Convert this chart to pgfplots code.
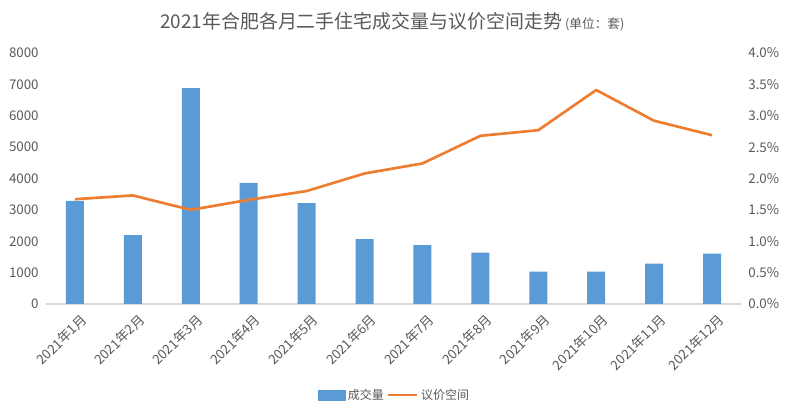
\documentclass[border=0pt]{standalone}
\usepackage{fontspec}
\setmainfont{Noto Sans CJK SC}
\usepackage{pgfplots}
\pgfplotsset{compat=1.18}
\definecolor{barblue}{HTML}{5B9BD5}
\definecolor{lineorange}{HTML}{ED7D31}
\definecolor{txtgray}{HTML}{595959}
\definecolor{axgray}{HTML}{D9D9D9}
\pgfplotsset{
  common/.style={
    scale only axis, width=521.25pt, height=188.25pt,
    xmin=-0.5, xmax=11.5, at={(0,0)}, anchor=south west,
    tick label style={font=\fontsize{10}{12}\selectfont, text=txtgray},
  }
}
\begin{document}
\begin{tikzpicture}[x=1pt,y=1pt]
\path (-34.5,-84) rectangle (556.5,228);
\node[anchor=west, text=txtgray, inner sep=0pt] at (85.5,211.5)
  {\fontsize{14.2}{16}\selectfont 2021年合肥各月二手住宅成交量与议价空间走势\,{\fontsize{9.5}{11}\selectfont (单位：套)}};
\begin{axis}[common,
  ymin=0, ymax=8000,
  ytick={0,1000,2000,3000,4000,5000,6000,7000,8000},
  yticklabels={0,1000,2000,3000,4000,5000,6000,7000,8000},
  axis x line*=bottom, axis y line*=left,
  y axis line style={draw=none},
  x axis line style={draw=axgray, line width=0.8pt, -},
  ytick style={draw=none},
  xtick={0,1,2,3,4,5,6,7,8,9,10,11},
  xticklabels={2021年1月,2021年2月,2021年3月,2021年4月,2021年5月,2021年6月,2021年7月,2021年8月,2021年9月,2021年10月,2021年11月,2021年12月},
  xtick style={draw=none},
  x tick label style={rotate=45, anchor=north east, inner sep=1pt, yshift=-3pt, xshift=2pt},
  extra x ticks={-0.5,0.5,1.5,2.5,3.5,4.5,5.5,6.5,7.5,8.5,9.5,10.5,11.5},
  extra x tick labels={},
  extra x tick style={tick align=outside, major tick length=5pt, tick style={draw=axgray, line width=0.8pt}},
  yticklabel style={xshift=-2pt},
  ybar, bar width=13.5pt,
]
\addplot[fill=barblue, draw=none] coordinates {
(0,3290) (1,2197) (2,6879) (3,3863) (4,3217) (5,2070)
(6,1879) (7,1634) (8,1030) (9,1030) (10,1284) (11,1603)};
\end{axis}
\begin{axis}[common,
  ymin=0, ymax=4,
  axis y line*=right, axis x line=none,
  y axis line style={draw=none},
  ytick style={draw=none},
  ytick={0,0.5,1,1.5,2,2.5,3,3.5,4},
  yticklabels={0.0\%,0.5\%,1.0\%,1.5\%,2.0\%,2.5\%,3.0\%,3.5\%,4.0\%},
  yticklabel style={xshift=2pt},
  legend style={at={(0.502,-0.363)}, anchor=center, draw=none, legend columns=2,
    font=\fontsize{9}{11}\selectfont, text=txtgray,
    /tikz/every even column/.append style={column sep=0pt}},
  legend cell align=left,
]
\addlegendimage{legend image code/.code={\fill[barblue] (0pt,-3.5pt) rectangle (20pt,3.5pt);}}
\addlegendentry{成交量}
\addplot[lineorange, line width=2pt, line join=round, mark=none,
  legend image code/.code={\draw[lineorange, line width=2pt] (0pt,0pt) -- (22pt,0pt);}]
  coordinates {
(0,1.67) (1,1.73) (2,1.50) (3,1.66) (4,1.80) (5,2.08)
(6,2.24) (7,2.68) (8,2.77) (9,3.41) (10,2.92) (11,2.69)};
\addlegendentry{议价空间}
\end{axis}
\end{tikzpicture}
\end{document}
